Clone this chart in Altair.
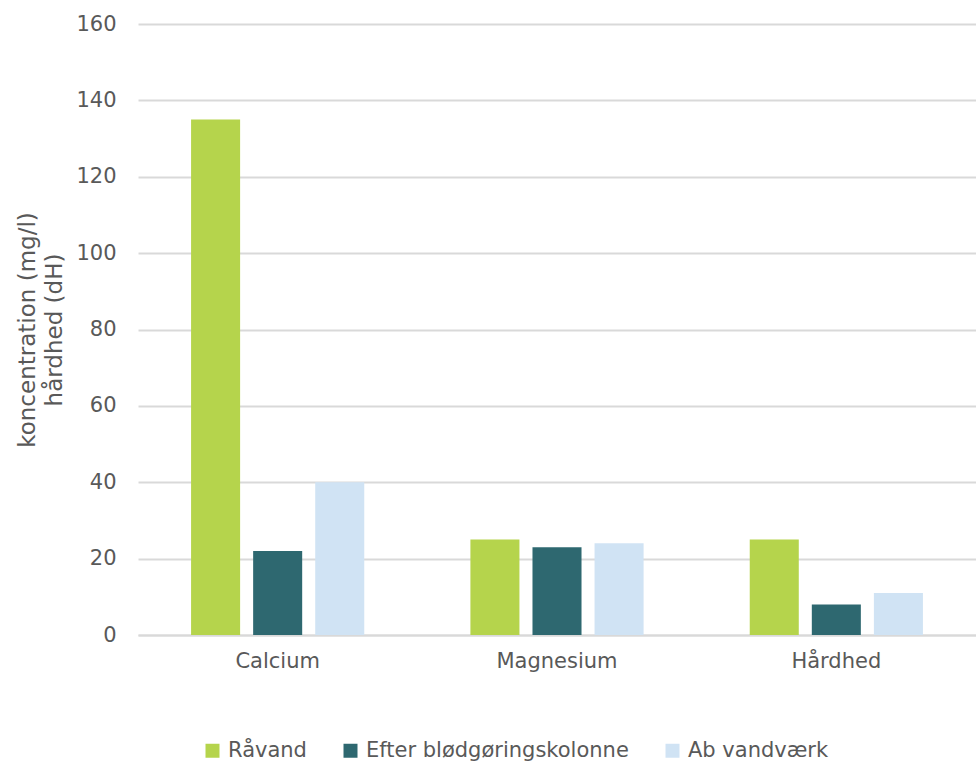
import altair as alt
import pandas as pd

categories = ["Calcium", "Magnesium", "Hårdhed"]
series = ["Råvand", "Efter blødgøringskolonne", "Ab vandværk"]
raavand = [135, 25, 25]
efter = [22, 23, 8]
ab_vandvaerk = [40, 24, 11]
colors = ["#b5d44c", "#2e6870", "#d0e3f4"]

rows = []
for i, c in enumerate(categories):
    for s, vals in zip(series, [raavand, efter, ab_vandvaerk]):
        rows.append({"kategori": c, "serie": s, "værdi": vals[i]})
df = pd.DataFrame(rows)

font = "DejaVu Sans"
gray = "#595959"

chart = alt.Chart(df).mark_bar().encode(
    x=alt.X("kategori:N", sort=categories, title=None,
            scale=alt.Scale(paddingInner=0.38, paddingOuter=0.19),
            axis=alt.Axis(labelAngle=0, labelFontSize=21, labelColor=gray, labelFont=font,
                          ticks=False, domainColor="#d9d9d9", domainWidth=2, labelPadding=15)),
    xOffset=alt.XOffset("serie:N", sort=series,
                        scale=alt.Scale(paddingInner=0.21, paddingOuter=0)),
    y=alt.Y("værdi:Q", title=["koncentration (mg/l)", "hårdhed (dH)"],
            scale=alt.Scale(domain=[0, 160]),
            axis=alt.Axis(values=list(range(0, 161, 20)), labelFontSize=21, labelColor=gray,
                          labelFont=font, ticks=False, domain=False, gridColor="#d9d9d9",
                          gridWidth=2, labelPadding=22, titleFontSize=23, titleColor=gray,
                          titleFont=font, titleFontWeight="normal", titlePadding=9,
                          titleLineHeight=27)),
    color=alt.Color("serie:N", sort=series, title=None,
                    scale=alt.Scale(domain=series, range=colors),
                    legend=alt.Legend(orient="none", direction="horizontal", legendX=64, legendY=716,
                                      symbolType="square", symbolSize=196, symbolStrokeWidth=0,
                                      labelFontSize=21, labelColor=gray, labelFont=font,
                                      labelLimit=0, columnPadding=33, labelOffset=5)),
).properties(
    width=838, height=611,
    autosize=alt.AutoSizeParams(type="none"),
    padding={"left": 138, "top": 24, "right": 0, "bottom": 128},
).configure_view(stroke=None)

chart.save("out.html", embed_options={"renderer": "svg", "actions": False})
